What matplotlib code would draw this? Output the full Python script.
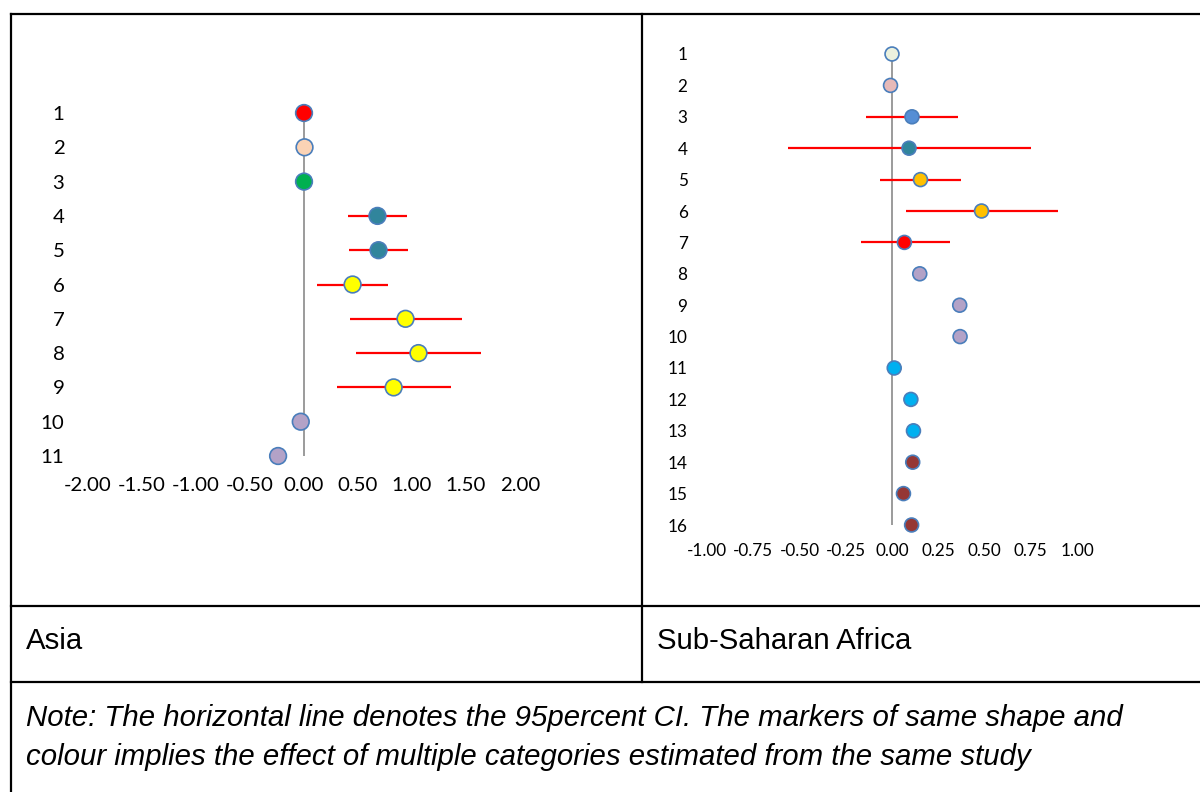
import matplotlib.pyplot as plt
import numpy as np

# Asia panel
asia_rows = list(range(1, 12))
asia_est = [0.00, 0.005, 0.00, 0.68, 0.69, 0.45, 0.94, 1.06, 0.83, -0.03, -0.24]
asia_lo = [np.nan, np.nan, np.nan, 0.41, 0.42, 0.12, 0.43, 0.48, 0.31, np.nan, np.nan]
asia_hi = [np.nan, np.nan, np.nan, 0.95, 0.96, 0.78, 1.46, 1.64, 1.36, np.nan, np.nan]
asia_colors = ['#FF0000', '#FBD3B5', '#00B050', '#31859C', '#31859C', '#FFFF00',
               '#FFFF00', '#FFFF00', '#FFFF00', '#B3A2C7', '#B3A2C7']
asia_ticks = [-2.0, -1.5, -1.0, -0.5, 0.0, 0.5, 1.0, 1.5, 2.0]

# Sub-Saharan Africa panel
ssa_rows = list(range(1, 17))
ssa_est = [0.00, -0.008, 0.108, 0.092, 0.154, 0.484, 0.067, 0.150,
           0.366, 0.368, 0.012, 0.102, 0.116, 0.112, 0.062, 0.106]
ssa_lo = [np.nan, np.nan, -0.14, -0.56, -0.065, 0.075, -0.17, np.nan,
          np.nan, np.nan, np.nan, np.nan, np.nan, np.nan, np.nan, np.nan]
ssa_hi = [np.nan, np.nan, 0.355, 0.75, 0.375, 0.895, 0.315, np.nan,
          np.nan, np.nan, np.nan, np.nan, np.nan, np.nan, np.nan, np.nan]
ssa_colors = ['#EBF1DE', '#E6B9B8', '#558ED5', '#31859C', '#FFC000', '#FFC000',
              '#FF0000', '#B3A2C7', '#B3A2C7', '#B3A2C7', '#00B0F0', '#00B0F0',
              '#00B0F0', '#953735', '#953735', '#953735']
ssa_ticks = [-1.0, -0.75, -0.5, -0.25, 0.0, 0.25, 0.5, 0.75, 1.0]

region_names = ['Asia', 'Sub-Saharan Africa']
note_lines = ['Note: The horizontal line denotes the 95percent CI. The markers of same shape and',
              'colour implies the effect of multiple categories estimated from the same study']

W, H = 1200, 792
fig = plt.figure(figsize=(12, 7.92), dpi=100)

# table frame drawn in pixel coordinates
bg = fig.add_axes([0, 0, 1, 1])
bg.set_xlim(0, W)
bg.set_ylim(H, 0)
bg.axis('off')
lw = 1.6
bg.plot([11, W], [14, 14], color='black', lw=lw)
bg.plot([11, 11], [14, H], color='black', lw=lw)
bg.plot([642, 642], [14, 682], color='black', lw=lw)
bg.plot([11, W], [606, 606], color='black', lw=lw)
bg.plot([11, W], [682, 682], color='black', lw=lw)
fs = 21.2
bg.text(26, 641, region_names[0], fontsize=fs, family='Liberation Sans', va='center')
bg.text(657, 641, region_names[1], fontsize=fs, family='Liberation Sans', va='center')
bg.text(26, 718, note_lines[0], fontsize=fs, family='Liberation Sans', style='italic', va='center')
bg.text(26, 757, note_lines[1], fontsize=fs, family='Liberation Sans', style='italic', va='center')


def px_axes(x0, x1, y0, y1):
    return fig.add_axes([x0 / W, 1 - y1 / H, (x1 - x0) / W, (y1 - y0) / H])


def forest(ax, rows, est, lo, hi, colors, ticks, msize, fsize, xpad, ypad):
    ax.axvline(0, color='#808080', lw=1.1, zorder=1)
    ax.hlines(rows, lo, hi, color='#FF0000', lw=1.6, zorder=2)
    ax.scatter(est, rows, s=msize ** 2, c=colors, edgecolors='#4A7EBB',
               linewidths=1.2, zorder=3, clip_on=False)
    ax.set_xlim(ticks[0], ticks[-1])
    ax.set_ylim(rows[-1], rows[0])
    ax.set_xticks(ticks)
    ax.set_xticklabels(['%.2f' % t for t in ticks])
    ax.set_yticks(rows)
    ax.set_yticklabels([str(r) for r in rows])
    ax.tick_params(length=0, labelsize=fsize)
    ax.tick_params(axis='x', pad=xpad)
    ax.tick_params(axis='y', pad=ypad)
    for s in ax.spines.values():
        s.set_visible(False)
    for lab in ax.get_xticklabels() + ax.get_yticklabels():
        lab.set_family('Lato')


ax1 = px_axes(88, 520, 113, 456)
forest(ax1, asia_rows, asia_est, asia_lo, asia_hi, asia_colors, asia_ticks,
       12, 14.7, 15, 17)

ax2 = px_axes(707, 1077, 54, 525)
forest(ax2, ssa_rows, ssa_est, ssa_lo, ssa_hi, ssa_colors, ssa_ticks,
       10, 12.3, 13, 14)

plt.savefig('out.png', dpi=100)
